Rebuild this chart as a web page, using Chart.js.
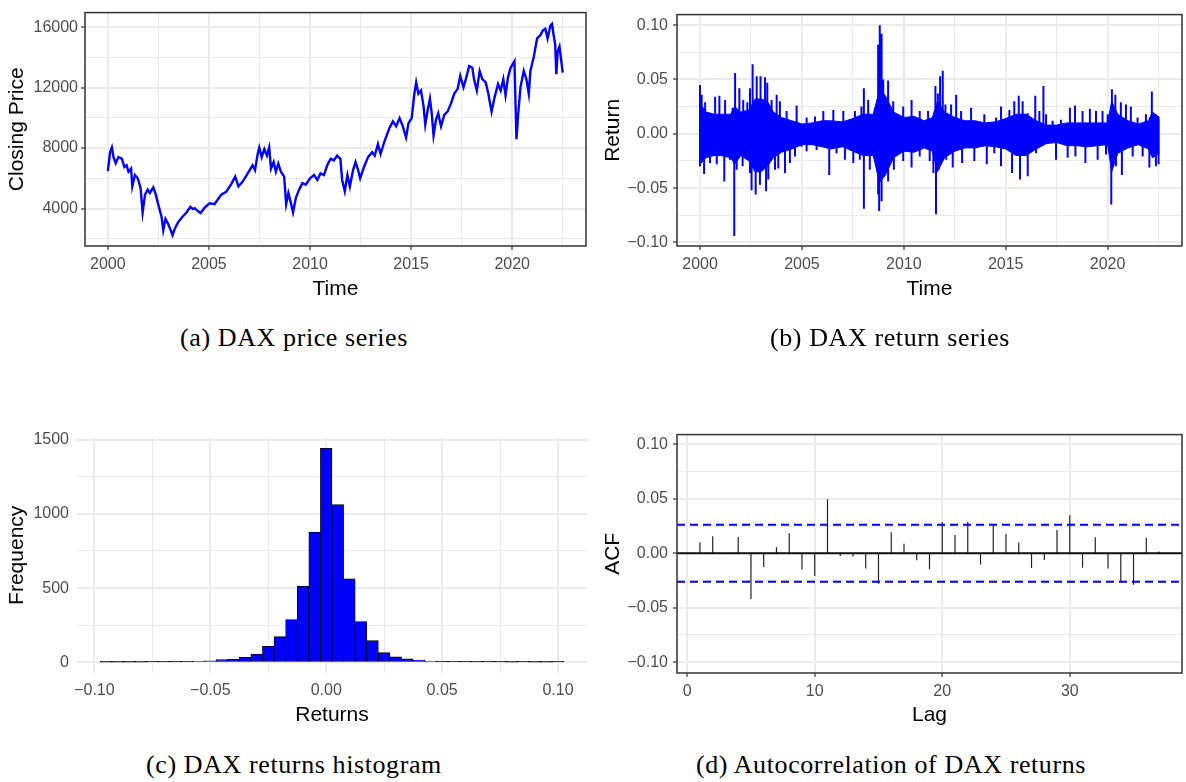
<!DOCTYPE html>
<html>
<head>
<meta charset="utf-8">
<script src="https://cdn.jsdelivr.net/npm/chart.js@4.4.0/dist/chart.umd.min.js"></script>
<style>
  body { margin:0; background:#fff; width:1186px; height:782px; position:relative; overflow:hidden; }
  .panel { position:absolute; }
  .cap { position:absolute; width:560px; text-align:center; font-family:"Liberation Serif", "Times New Roman", serif;
         font-size:26px; letter-spacing:0.6px; line-height:30px; color:#000; }
</style>
</head>
<body>
<canvas id="cPrice" class="panel" width="600" height="310" style="left:0;top:0"></canvas>
<canvas id="cReturn" class="panel" width="590" height="310" style="left:596px;top:0"></canvas>
<canvas id="cHist" class="panel" width="600" height="310" style="left:0;top:420px"></canvas>
<canvas id="cAcf" class="panel" width="590" height="310" style="left:596px;top:420px"></canvas>

<div class="cap" style="left:14px;top:323px">(a) DAX price series</div>
<div class="cap" style="left:610px;top:323px">(b) DAX return series</div>
<div class="cap" style="left:14px;top:750px">(c) DAX returns histogram</div>
<div class="cap" style="left:611px;top:750px">(d) Autocorrelation of DAX returns</div>

<script>
/* ------------------------ data ------------------------ */

// (a) closing price, sampled at turning points
const priceYears = [2000.00,2000.11,2000.20,2000.28,2000.39,2000.52,2000.69,2000.82,2000.93,2001.02,2001.15,2001.21,
  2001.34,2001.48,2001.62,2001.72,2001.84,2001.97,2002.08,2002.25,2002.36,2002.49,2002.66,2002.74,2002.85,2002.98,
  2003.11,2003.20,2003.31,2003.48,2003.67,2003.89,2004.08,2004.21,2004.30,2004.43,2004.59,2004.79,2005.03,2005.28,
  2005.44,2005.61,2005.85,2006.10,2006.30,2006.46,2006.67,2006.92,2007.16,2007.28,2007.41,2007.49,2007.61,2007.74,
  2007.87,2007.98,2008.07,2008.20,2008.31,2008.43,2008.56,2008.72,2008.82,2008.93,2009.05,2009.16,2009.30,2009.46,
  2009.62,2009.79,2010.00,2010.20,2010.36,2010.52,2010.69,2010.85,2011.02,2011.18,2011.34,2011.50,2011.59,2011.72,
  2011.85,2011.97,2012.13,2012.25,2012.38,2012.48,2012.67,2012.87,2013.07,2013.20,2013.36,2013.49,2013.69,2013.93,
  2014.10,2014.26,2014.43,2014.59,2014.75,2014.87,2015.03,2015.16,2015.25,2015.36,2015.49,2015.62,2015.70,2015.82,
  2015.93,2016.02,2016.11,2016.23,2016.34,2016.48,2016.64,2016.80,2016.97,2017.13,2017.30,2017.43,2017.59,2017.75,
  2017.87,2018.03,2018.11,2018.25,2018.39,2018.52,2018.69,2018.82,2018.98,2019.13,2019.30,2019.43,2019.56,2019.67,
  2019.79,2019.92,2020.11,2020.16,2020.21,2020.30,2020.41,2020.57,2020.70,2020.82,2020.90,2021.07,2021.23,2021.39,
  2021.52,2021.64,2021.75,2021.89,2021.97,2022.05,2022.13,2022.18,2022.25,2022.34,2022.43,2022.50];
const priceVals = [6470,7720,8040,7400,7000,7400,7300,6750,6860,6430,6640,5460,
  6210,6000,5350,3740,4920,5250,5030,5400,4970,4280,3420,2560,3310,2990,
  2560,2240,2670,3100,3420,3740,4110,3960,4020,3850,3700,4060,4340,4280,
  4600,4920,5100,5610,6110,5460,5780,6320,6860,6540,7610,8040,7400,7930,
  7500,8040,6640,7070,6430,6970,6430,6110,4280,5030,4390,3740,4710,5250,
  5680,5570,6000,6210,5890,6320,6210,6860,7290,7180,7500,7290,5890,5140,
  6210,5460,6540,7070,6540,6000,6750,7400,7720,7500,8260,7610,8470,9330,
  9760,9440,9980,9440,8690,9650,9980,11590,12340,11590,11800,10730,9550,10510,
  11270,10300,8840,9870,10300,9440,10190,10410,10940,11590,11910,12770,12020,12770,
  13420,13310,12560,11800,13100,12560,12340,11590,10410,11370,12230,11800,12560,11480,
  12660,13310,13740,11160,8580,10300,12020,13100,12560,11590,13100,14060,15250,15460,
  15780,15890,15250,16100,16210,15460,14810,12880,14380,14710,13740,12990];

// (b) returns: dense core band + individual spikes
const coreYears = [2000.0,2000.3,2000.7,2001.0,2001.5,2001.7,2002.0,2002.4,2002.7,2003.0,2003.3,2003.6,2004.0,2004.5,
  2005.0,2005.5,2006.0,2006.4,2007.0,2007.5,2008.0,2008.5,2008.8,2009.1,2009.5,2010.0,2010.5,2011.0,2011.4,2011.65,
  2012.0,2012.5,2013.0,2013.5,2014.0,2014.5,2015.0,2015.5,2016.0,2016.5,2017.0,2017.5,2018.0,2018.5,2019.0,2019.5,
  2020.0,2020.2,2020.5,2021.0,2021.5,2022.0,2022.2,2022.55];
const coreHi = [.028,.02,.018,.018,.018,.025,.02,.022,.032,.032,.03,.02,.015,.012,
  .009,.01,.012,.012,.011,.014,.018,.018,.04,.035,.02,.015,.016,.012,.015,.03,
  .02,.015,.012,.012,.01,.011,.014,.018,.018,.012,.008,.008,.01,.01,.01,.01,
  .01,.03,.018,.012,.009,.012,.02,.015];
const coreLo = [-.028,-.022,-.02,-.02,-.022,-.028,-.02,-.025,-.035,-.035,-.03,-.022,-.017,-.014,
  -.01,-.01,-.012,-.014,-.012,-.016,-.02,-.02,-.045,-.038,-.022,-.016,-.017,-.013,-.016,-.035,
  -.022,-.016,-.013,-.013,-.011,-.012,-.014,-.02,-.02,-.014,-.009,-.008,-.011,-.011,-.012,-.011,
  -.01,-.035,-.018,-.013,-.01,-.014,-.022,-.018];
const upYears = [2000.00,2000.08,2000.25,2000.74,2000.95,2001.23,2001.60,2001.72,2001.93,2002.12,2002.32,2002.45,
  2002.58,2002.78,2002.97,2003.19,2003.30,2003.51,2003.76,2003.92,2004.25,2004.74,2005.23,2005.64,2006.05,2006.54,
  2007.03,2007.60,2007.92,2008.04,2008.25,2008.58,2008.74,2008.82,2008.91,2008.99,2009.23,2009.48,2009.97,2010.38,
  2010.78,2011.19,2011.55,2011.67,2011.78,2011.91,2012.04,2012.32,2012.57,2012.81,2013.30,2013.95,2014.53,2014.77,
  2015.18,2015.42,2015.64,2015.83,2016.08,2016.45,2016.65,2016.85,2016.98,2017.30,2017.71,2018.15,2018.40,2018.77,
  2019.13,2019.43,2019.75,2020.00,2020.21,2020.38,2020.65,2020.90,2021.14,2021.47,2021.88,2022.17,2022.34,2022.50];
const upVals = [.045,.036,.029,.034,.035,.031,.024,.056,.042,.031,.029,.042,
  .064,.053,.053,.052,.047,.031,.036,.030,.021,.026,.015,.016,.021,.022,
  .021,.021,.025,.042,.031,.024,.082,.100,.092,.050,.049,.030,.025,.031,
  .021,.021,.044,.037,.053,.058,.027,.027,.036,.021,.024,.018,.015,.025,
  .022,.030,.035,.030,.019,.035,.021,.044,.018,.012,.013,.024,.026,.021,
  .023,.021,.021,.018,.041,.036,.029,.027,.025,.015,.018,.039,.018,.014];
const dnYears = [2000.00,2000.20,2000.49,2000.82,2001.19,2001.47,2001.68,2001.80,2002.09,2002.45,2002.53,2002.73,
  2002.94,2003.24,2003.35,2003.68,2003.84,2004.17,2004.41,2004.66,2004.98,2005.23,2005.72,2006.34,2006.70,2007.11,
  2007.52,2007.84,2008.04,2008.33,2008.74,2008.79,2008.91,2009.23,2009.51,2009.97,2010.38,2010.78,2011.27,2011.45,
  2011.58,2011.71,2012.08,2012.40,2012.86,2013.46,2014.07,2014.44,2014.77,2015.31,2015.70,2016.08,2016.49,2017.47,
  2018.04,2018.42,2018.91,2019.51,2019.92,2020.18,2020.41,2020.70,2021.23,2021.72,2022.05,2022.37,2022.50];
const dnVals = [-.030,-.037,-.027,-.028,-.044,-.024,-.094,-.033,-.030,-.036,-.052,-.056,
  -.047,-.053,-.042,-.033,-.032,-.036,-.027,-.021,-.012,-.016,-.015,-.038,-.018,-.024,
  -.027,-.024,-.069,-.033,-.056,-.071,-.062,-.044,-.033,-.025,-.031,-.021,-.025,-.036,
  -.074,-.033,-.024,-.031,-.027,-.025,-.028,-.018,-.030,-.036,-.042,-.039,-.018,-.024,
  -.022,-.021,-.027,-.024,-.019,-.065,-.030,-.038,-.021,-.021,-.031,-.030,-.028];

// (c) histogram, bin width 0.005
const binCenters = [-0.095,-0.090,-0.085,-0.080,-0.075,-0.070,-0.065,-0.060,-0.055,-0.050,-0.045,-0.040,-0.035,-0.030,
  -0.025,-0.020,-0.015,-0.010,-0.005,0.000,0.005,0.010,0.015,0.020,0.025,0.030,0.035,0.040,0.045,0.050,
  0.055,0.060,0.065,0.070,0.075,0.080,0.085,0.090,0.095,0.100];
const binCounts = [1,1,1,1,2,3,3,4,6,10,18,20,33,55,
  108,174,288,513,878,1442,1063,563,275,147,66,37,24,15,9,5,
  4,3,2,2,2,1,2,1,1,2];

// (d) autocorrelation, lags 1..37
const lags = [1,2,3,4,5,6,7,8,9,10,11,12,13,14,15,16,17,18,19,20,21,22,23,24,25,26,27,28,29,30,31,32,33,34,35,36,37];
const acfVals = [0.0101,0.0156,-0.001,0.015,-0.042,-0.0126,0.0055,0.0183,-0.015,-0.021,0.0497,-0.0025,-0.003,-0.014,
  -0.028,0.0192,0.0088,-0.0064,-0.0147,0.0287,0.0168,0.029,-0.0104,0.026,0.018,0.0097,-0.0135,-0.0061,0.0213,0.0348,
  -0.0132,0.0147,-0.014,-0.0266,-0.029,0.014,0.0015];
const acfBound = 0.0262;

// tick labels
const yearTicks = [2000,2005,2010,2015,2020], yearMinor = [2002.5,2007.5,2012.5,2017.5,2022.5];
const priceTicks = [4000,8000,12000,16000], priceMinor = [2000,6000,10000,14000];
const retTicks = [-0.10,-0.05,0,0.05,0.10], retMinor = [-0.075,-0.025,0.025,0.075];
const freqTicks = [0,500,1000,1500], freqMinor = [250,750,1250];
const lagTicks = [0,10,20,30];

/* ------------------------------ helpers ------------------------------ */
Chart.defaults.font.family = '"Liberation Sans", Arial, Helvetica, sans-serif';
Chart.defaults.animation = false;

const BLUE = '#0000ff';
const near = (a, b) => Math.abs(a - b) < 1e-9;
const has = (arr, v) => arr.some(m => near(m, v));
const minus = s => s.replace('-', '\u2212');
const fmt2 = v => minus(v.toFixed(2));
const fmt0 = v => minus(String(Math.round(v)));

let axis = (o) => {
  const all = o.major.concat(o.minor || []);
  return {
    type: 'linear', min: o.min, max: o.max, offset: false,
    afterBuildTicks: s => { s.ticks = all.map(v => ({value: v})); },
    afterFit: s => { if (o.horiz) s.height = o.size; else s.width = o.size; },
    grid: {
      offset: false,
      color: '#ebebeb',
      lineWidth: c => (c.tick && has(o.major, c.tick.value)) ? 2 : 1,
      drawTicks: o.tick > 0,
      tickLength: o.tick,
      tickColor: c => (c.tick && has(o.major, c.tick.value)) ? '#333333' : 'rgba(0,0,0,0)',
      tickWidth: 1.2
    },
    border: {display: false},
    ticks: {
      autoSkip: false, maxRotation: 0, minRotation: 0, padding: o.pad,
      color: '#4d4d4d', font: {size: 16},
      callback: v => has(o.major, v) ? o.fmt(v) : ''
    },
    title: {display: true, text: o.title, color: '#000', font: {size: 21}, padding: o.tpad}
  };
};

// dark frame round the panel (theme_bw)
const panelBox = {
  id: 'panelBox',
  afterDraw(chart) {
    const {ctx, chartArea: a} = chart;
    ctx.save();
    ctx.strokeStyle = '#333333';
    ctx.lineWidth = 1.5;
    ctx.strokeRect(a.left, a.top, a.right - a.left, a.bottom - a.top);
    ctx.restore();
  }
};

// horizontal reference lines drawn with the y scale
let refLines = (lines) => ({
  id: 'refLines',
  afterDatasetsDraw(chart) {
    const {ctx, chartArea: a, scales} = chart;
    lines.forEach(l => {
      const py = scales.y.getPixelForValue(l.value);
      ctx.save();
      ctx.strokeStyle = l.color;
      ctx.lineWidth = l.width;
      ctx.setLineDash(l.dash || []);
      ctx.beginPath();
      ctx.moveTo(a.left, py);
      ctx.lineTo(a.right, py);
      ctx.stroke();
      ctx.restore();
    });
  }
});

// vertical sticks from 0 to each value, split by null gaps
let sticks = (xs, ys) => {
  const out = [];
  xs.forEach((x, i) => { out.push({x: x, y: 0}, {x: x, y: ys[i]}, {x: x, y: null}); });
  return out;
};

const base = (pad) => ({
  responsive: false,
  layout: {padding: pad},
  plugins: {legend: {display: false}, tooltip: {enabled: false}},
  elements: {point: {radius: 0}, line: {tension: 0}}
});

/* ------------------------------ (a) price ------------------------------ */
new Chart(document.getElementById('cPrice'), {
  type: 'line',
  data: {datasets: [{
    data: priceYears.map((x, i) => ({x: x, y: priceVals[i]})),
    borderColor: BLUE, borderWidth: 2.4
  }]},
  options: Object.assign(base({top: 7, right: 14, left: 0, bottom: 0}), {
    scales: {
      x: axis({min: 1998.87, max: 2023.65, major: yearTicks, minor: yearMinor, fmt: fmt0, title: 'Time',
               horiz: true, size: 64, tick: 4, pad: 5, tpad: {top: 0, bottom: 8}}),
      y: axis({min: 1520, max: 16960, major: priceTicks, minor: priceMinor, fmt: fmt0, title: 'Closing Price',
               size: 85, tick: 4, pad: 3, tpad: {top: 5, bottom: 0}})
    }
  }),
  plugins: [panelBox]
});

/* ------------------------------ (b) returns ------------------------------ */
new Chart(document.getElementById('cReturn'), {
  type: 'line',
  data: {datasets: [
    {data: coreYears.map((x, i) => ({x: x, y: coreHi[i]})), borderColor: BLUE, backgroundColor: BLUE,
     borderWidth: 1, fill: '+1'},
    {data: coreYears.map((x, i) => ({x: x, y: coreLo[i]})), borderColor: BLUE, borderWidth: 1, fill: false},
    {data: sticks(upYears, upVals), borderColor: BLUE, borderWidth: 2, spanGaps: false, fill: false},
    {data: sticks(dnYears, dnVals), borderColor: BLUE, borderWidth: 2, spanGaps: false, fill: false}
  ]},
  options: Object.assign(base({top: 7, right: 4, left: 0, bottom: 0}), {
    scales: {
      x: axis({min: 1998.87, max: 2023.65, major: yearTicks, minor: yearMinor, fmt: fmt0, title: 'Time',
               horiz: true, size: 64, tick: 4, pad: 5, tpad: {top: 0, bottom: 8}}),
      y: axis({min: -0.1033, max: 0.1097, major: retTicks, minor: retMinor, fmt: fmt2, title: 'Return',
               size: 81, tick: 4, pad: 5, tpad: {top: 5, bottom: 0}})
    }
  }),
  plugins: [panelBox]
});

/* ------------------------------ (c) histogram ------------------------------ */
new Chart(document.getElementById('cHist'), {
  type: 'bar',
  data: {datasets: [{
    data: binCenters.map((x, i) => ({x: x, y: binCounts[i]})),
    backgroundColor: BLUE, borderColor: '#000', borderWidth: 0.8, borderSkipped: false,
    barPercentage: 1, categoryPercentage: 1
  }]},
  options: Object.assign(base({top: 13, right: 13, left: 0, bottom: 0}), {
    scales: {
      x: axis({min: -0.1075, max: 0.1125, major: retTicks, minor: retMinor, fmt: fmt2, title: 'Returns',
               horiz: true, size: 57, tick: 0, pad: 8, tpad: {top: 0, bottom: 2}}),
      y: axis({min: -72, max: 1514, major: freqTicks, minor: freqMinor, fmt: fmt0, title: 'Frequency',
               size: 77, tick: 0, pad: 8, tpad: {top: 5, bottom: 0}})
    }
  })
});

/* ------------------------------ (d) ACF ------------------------------ */
new Chart(document.getElementById('cAcf'), {
  type: 'line',
  data: {datasets: [{
    data: sticks(lags, acfVals), borderColor: '#222222', borderWidth: 1.2, spanGaps: false
  }]},
  options: Object.assign(base({top: 14, right: 4, left: 0, bottom: 0}), {
    scales: {
      x: axis({min: -0.8, max: 38.8, major: lagTicks, fmt: fmt0, title: 'Lag',
               horiz: true, size: 57, tick: 4, pad: 5, tpad: {top: 0, bottom: 2}}),
      y: axis({min: -0.110, max: 0.109, major: retTicks, minor: retMinor, fmt: fmt2, title: 'ACF',
               size: 81, tick: 4, pad: 5, tpad: {top: 5, bottom: 0}})
    }
  }),
  plugins: [panelBox, refLines([
    {value: 0, color: '#111111', width: 1.8},
    {value: acfBound, color: BLUE, width: 2, dash: [8, 5]},
    {value: -acfBound, color: BLUE, width: 2, dash: [8, 5]}
  ])]
});
</script>
</body>
</html>
